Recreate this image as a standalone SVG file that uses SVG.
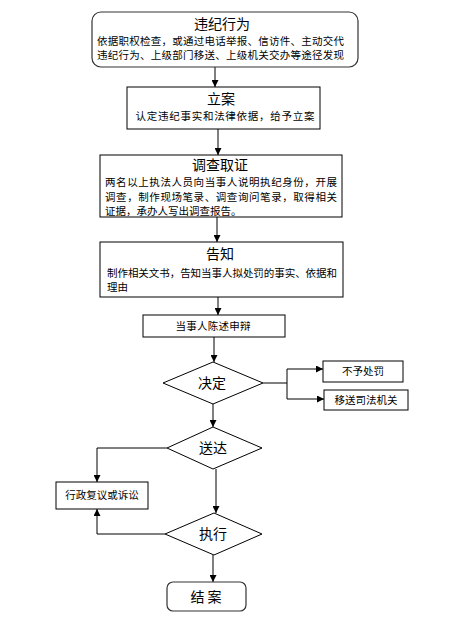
<svg xmlns="http://www.w3.org/2000/svg" width="456" height="625" viewBox="0 0 456 625">
<defs>
<marker id="ah" viewBox="0 0 8 8" refX="8" refY="4" markerWidth="7" markerHeight="7" markerUnits="userSpaceOnUse" orient="auto">
<path d="M0,0 L8,4 L0,8 z" fill="#000"/>
</marker>
<style>
.box{fill:#fff;stroke:#000;stroke-width:1}
.rbox{fill:#fff;stroke:#333;stroke-width:1.2}
.ln{fill:none;stroke:#000;stroke-width:1}
.t{font-family:"Noto Sans CJK SC","Noto Sans",sans-serif;fill:#000}
.ti{font-size:14px;text-anchor:middle}
.b{font-size:10.5px}
.c{font-size:10.5px;text-anchor:middle}
.d{font-size:14px;text-anchor:middle}
</style>
</defs>
<rect width="456" height="625" fill="#fff"/>
<g id="connectors">
<path class="ln" d="M215,67 V87" marker-end="url(#ah)"/>
<path class="ln" d="M218,129 V155" marker-end="url(#ah)"/>
<path class="ln" d="M217,217 V242" marker-end="url(#ah)"/>
<path class="ln" d="M218,297 V315" marker-end="url(#ah)"/>
<path class="ln" d="M214,337 V362" marker-end="url(#ah)"/>
<path class="ln" d="M263,383 H287"/>
<path class="ln" d="M287,369 V399"/>
<path class="ln" d="M287,369 H323" marker-end="url(#ah)"/>
<path class="ln" d="M287,399 H324" marker-end="url(#ah)"/>
<path class="ln" d="M213,404 V427" marker-end="url(#ah)"/>
<path class="ln" d="M167,448 H97 V482" marker-end="url(#ah)"/>
<path class="ln" d="M216,469 V513" marker-end="url(#ah)"/>
<path class="ln" d="M165,534 H97 V509" marker-end="url(#ah)"/>
<path class="ln" d="M213,555 V582" marker-end="url(#ah)"/>
</g>
<g id="n1">
<rect class="rbox" x="92" y="12" width="266" height="55" rx="9"/>
<text class="t ti" x="222" y="29">违纪行为</text>
<text class="t b" x="97" y="45" textLength="247">依据职权检查，或通过电话举报、信访件、主动交代</text>
<text class="t b" x="97" y="59" textLength="247">违纪行为、上级部门移送、上级机关交办等途径发现</text>
</g>
<g id="n2">
<rect class="box" x="127" y="87" width="193" height="42"/>
<text class="t ti" x="221" y="104">立案</text>
<text class="t c" x="225" y="120" textLength="179">认定违纪事实和法律依据，给予立案</text>
</g>
<g id="n3">
<rect class="box" x="100" y="155" width="242" height="62"/>
<text class="t ti" x="220" y="170">调查取证</text>
<text class="t b" x="105" y="186" textLength="232">两名以上执法人员向当事人说明执纪身份，开展</text>
<text class="t b" x="105" y="201" textLength="232">调查，制作现场笔录、调查询问笔录，取得相关</text>
<text class="t b" x="105" y="215">证据，承办人写出调查报告。</text>
</g>
<g id="n4">
<rect class="box" x="100" y="242" width="243" height="55"/>
<text class="t ti" x="220" y="259">告知</text>
<text class="t b" x="107" y="277" textLength="230">制作相关文书，告知当事人拟处罚的事实、依据和</text>
<text class="t b" x="107" y="291">理由</text>
</g>
<g id="n5">
<rect class="box" x="143" y="315" width="142" height="22"/>
<text class="t c" x="213" y="330" textLength="75">当事人陈述申辩</text>
</g>
<g id="n6">
<polygon class="box" points="213,362 263,383 213,404 163,383"/>
<text class="t d" x="212" y="388">决定</text>
</g>
<g id="n7">
<rect class="box" x="323" y="361" width="80" height="21"/>
<text class="t c" x="363" y="375">不予处罚</text>
</g>
<g id="n8">
<rect class="box" x="324" y="390" width="84" height="20"/>
<text class="t c" x="366" y="404">移送司法机关</text>
</g>
<g id="n9">
<polygon class="box" points="213,427 262,448 213,469 167,448"/>
<text class="t d" x="213" y="453">送达</text>
</g>
<g id="n10">
<rect class="box" x="56" y="482" width="92" height="27"/>
<text class="t c" x="102" y="499">行政复议或诉讼</text>
</g>
<g id="n11">
<polygon class="box" points="214,513 262,534 214,555 165,534"/>
<text class="t d" x="213" y="539">执行</text>
</g>
<g id="n12">
<rect class="rbox" x="167" y="582" width="79" height="29" rx="6"/>
<text class="t ti" x="206" y="602">结 案</text>
</g>
</svg>
